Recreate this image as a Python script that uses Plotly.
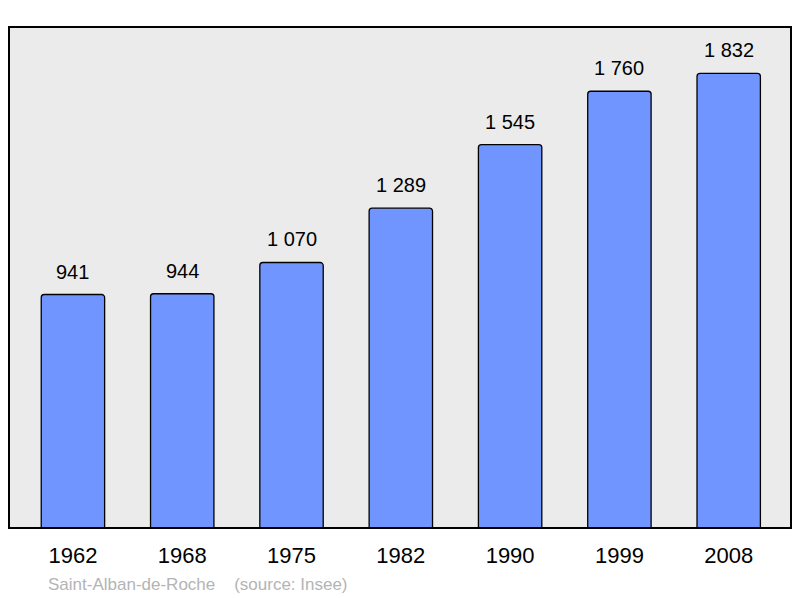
import plotly.graph_objects as go

years = ["1962", "1968", "1975", "1982", "1990", "1999", "2008"]
population = [941, 944, 1070, 1289, 1545, 1760, 1832]
labels = [f"{v:,}".replace(",", " ") for v in population]

fig = go.Figure()
fig.add_trace(go.Bar(
    x=list(range(len(years))), y=population,
    width=0.58,
    marker=dict(color="#7095ff", line=dict(color="#000000", width=1.3), cornerradius=3),
    hoverinfo="skip",
))
for i, (v, t) in enumerate(zip(population, labels)):
    fig.add_annotation(x=i, y=v, text=t, showarrow=False, xref="x", yref="y",
                       yshift=23, font=dict(size=20, color="#000000", family="Liberation Sans, Arial, sans-serif"))

fig.update_layout(
    width=792, height=590,
    margin=dict(l=1, r=9, t=19, b=70),
    paper_bgcolor="#ffffff", plot_bgcolor="#ebebeb",
    showlegend=False,
    font=dict(family="Liberation Sans, Arial, sans-serif"),
    xaxis=dict(range=[-0.585, 6.57], tickmode="array", tickvals=list(range(len(years))), ticktext=years,
               showgrid=False, zeroline=False, ticks="", ticklabelstandoff=12,
               tickfont=dict(size=22, color="#000000"), fixedrange=True),
    yaxis=dict(range=[0, 2019], showgrid=False, zeroline=False, showticklabels=False, ticks="", fixedrange=True),
)
fig.add_shape(type="rect", xref="paper", yref="paper", x0=0, x1=1, y0=0, y1=1,
              line=dict(color="#000000", width=2), layer="above")
fig.add_annotation(xref="paper", yref="paper", x=(46 - 9) / 782, y=-(584 - 528) / 501, xanchor="left", yanchor="middle",
                   text="Saint-Alban-de-Roche &nbsp;&nbsp;&nbsp;(source: Insee)", showarrow=False,
                   font=dict(size=17, color="#b4b4b4"))
fig.write_html("out.html")
